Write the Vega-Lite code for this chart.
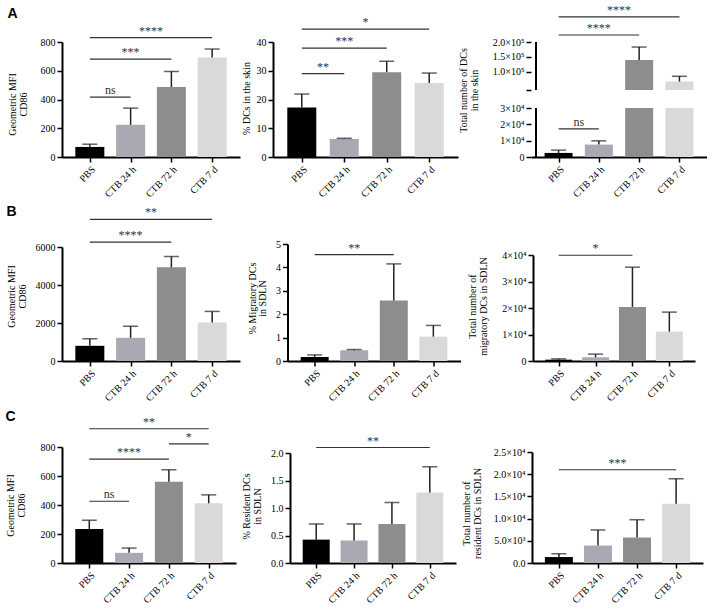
{
"$schema":"https://vega.github.io/schema/vega-lite/v6.json",
"background":"white",
"padding":{"left":5,"top":3,"right":0,"bottom":0},
"spacing":6,
"align":"none",
"vconcat":[
{"spacing":0,"align":"none","hconcat":[
{"width":178,"height":115,"title":{"text":"A","offset":4},
"layer":[
{"data":{"values":[{"group":"PBS","pos":0,"mean":70,"upper":89},{"group":"CTB 24 h","pos":1,"mean":224,"upper":340},{"group":"CTB 72 h","pos":2,"mean":487,"upper":595},{"group":"CTB 7 d","pos":3,"mean":693,"upper":751}]},
"layer":[
{"mark":{"type":"bar","width":29,"orient":"vertical"},"encoding":{"x":{"field":"pos","type":"quantitative","scale":{"domain":[-0.56,3.56],"nice":false,"zero":false},"axis":{"values":[0,1,2,3],"labelExpr":"['PBS','CTB 24 h','CTB 72 h','CTB 7 d'][datum.value]","title":null}},"y":{"field":"mean","type":"quantitative","scale":{"domain":[0,800],"nice":false},"axis":{"values":[0,200,400,600,800],"title":["Geometric MFI","CD86"],"titleX":-44.5,"titleY":62}},"color":{"field":"group","type":"nominal","scale":{"domain":["PBS","CTB 24 h","CTB 72 h","CTB 7 d"],"range":["#000000","#a9a9b3","#8d8d8d","#d9d9d9"]},"legend":null}}},
{"mark":{"type":"rule","color":"#222","strokeWidth":1.5},"encoding":{"x":{"field":"pos","type":"quantitative"},"y":{"field":"mean","type":"quantitative"},"y2":{"field":"upper"}}},
{"mark":{"type":"tick","orient":"horizontal","color":"#222","size":15,"thickness":1.5},"encoding":{"x":{"field":"pos","type":"quantitative"},"y":{"field":"upper","type":"quantitative"}}}
]},
{"data":{"values":[{"from":0,"to":1,"at":417,"label":"ns"},{"from":0,"to":2,"at":681,"label":"***"},{"from":0,"to":3,"at":830,"label":"****"}]},
"layer":[
{"mark":{"type":"rule","color":"#333","strokeWidth":1.2},"encoding":{"x":{"field":"from","type":"quantitative"},"x2":{"field":"to"},"y":{"field":"at","type":"quantitative"}}},
{"transform":[{"fold":["from","to"],"as":["end","xpos"]}],"mark":{"type":"text","dy":-3,"baseline":"alphabetic"},"encoding":{"x":{"aggregate":"mean","field":"xpos","type":"quantitative"},"y":{"field":"at","type":"quantitative"},"text":{"field":"label"}}}
]}
]},
{"width":185,"height":115,
"layer":[
{"data":{"values":[{"group":"PBS","pos":0,"mean":17.2,"upper":21.9},{"group":"CTB 24 h","pos":1,"mean":6.3,"upper":6.5},{"group":"CTB 72 h","pos":2,"mean":29.5,"upper":33.3},{"group":"CTB 7 d","pos":3,"mean":25.7,"upper":29.2}]},
"layer":[
{"mark":{"type":"bar","width":29,"orient":"vertical"},"encoding":{"x":{"field":"pos","type":"quantitative","scale":{"domain":[-0.56,3.56],"nice":false,"zero":false},"axis":{"values":[0,1,2,3],"labelExpr":"['PBS','CTB 24 h','CTB 72 h','CTB 7 d'][datum.value]","title":null}},"y":{"field":"mean","type":"quantitative","scale":{"domain":[0,40],"nice":false},"axis":{"values":[0,10,20,30,40],"title":"% DCs in the skin","titleX":-22,"titleY":56}},"color":{"field":"group","type":"nominal","scale":{"domain":["PBS","CTB 24 h","CTB 72 h","CTB 7 d"],"range":["#000000","#a9a9b3","#8d8d8d","#d9d9d9"]},"legend":null}}},
{"mark":{"type":"rule","color":"#222","strokeWidth":1.5},"encoding":{"x":{"field":"pos","type":"quantitative"},"y":{"field":"mean","type":"quantitative"},"y2":{"field":"upper"}}},
{"mark":{"type":"tick","orient":"horizontal","color":"#222","size":15,"thickness":1.5},"encoding":{"x":{"field":"pos","type":"quantitative"},"y":{"field":"upper","type":"quantitative"}}}
]},
{"data":{"values":[{"from":0,"to":1,"at":29.0,"label":"**"},{"from":0,"to":2,"at":37.9,"label":"***"},{"from":0,"to":3,"at":44.5,"label":"*"}]},
"layer":[
{"mark":{"type":"rule","color":"#333","strokeWidth":1.2},"encoding":{"x":{"field":"from","type":"quantitative"},"x2":{"field":"to"},"y":{"field":"at","type":"quantitative"}}},
{"transform":[{"fold":["from","to"],"as":["end","xpos"]}],"mark":{"type":"text","dy":-3,"baseline":"alphabetic"},"encoding":{"x":{"aggregate":"mean","field":"xpos","type":"quantitative"},"y":{"field":"at","type":"quantitative"},"text":{"field":"label"}}}
]}
]},
{"width":176,"height":115,
"layer":[
{"data":{"values":[{"group":"PBS","pos":0,"mean":2500,"upper":4200},{"group":"CTB 24 h","pos":1,"mean":7600,"upper":9900},{"group":"CTB 72 h","pos":2,"mean":139300,"upper":183000},{"group":"CTB 7 d","pos":3,"mean":66300,"upper":84300}]},
"layer":[
{"mark":{"type":"bar","width":28,"orient":"vertical"},"encoding":{"x":{"field":"pos","type":"quantitative","scale":{"domain":[-0.56,3.56],"nice":false,"zero":false},"axis":{"values":[0,1,2,3],"labelExpr":"['PBS','CTB 24 h','CTB 72 h','CTB 7 d'][datum.value]","title":null}},"y":{"field":"mean","type":"quantitative","scale":{"domain":[0,30000,38000,200000],"range":[115,66,48,0],"nice":false,"zero":false},"axis":{"values":[0,10000,20000,30000,38000,100000,150000,200000],"labelExpr":"datum.value == 0 ? '0' : datum.value == 38000 ? '' : datum.value <= 30000 ? (datum.value/10000) + '×10⁴' : format(datum.value/100000, '.1f') + '×10⁵'","domain":false,"title":["Total number of DCs","in the skin"],"titleX":-62.5,"titleY":48}},"color":{"field":"group","type":"nominal","scale":{"domain":["PBS","CTB 24 h","CTB 72 h","CTB 7 d"],"range":["#000000","#a9a9b3","#8d8d8d","#d9d9d9"]},"legend":null}}},
{"mark":{"type":"rule","color":"#222","strokeWidth":1.5},"encoding":{"x":{"field":"pos","type":"quantitative"},"y":{"field":"mean","type":"quantitative"},"y2":{"field":"upper"}}},
{"mark":{"type":"tick","orient":"horizontal","color":"#222","size":15,"thickness":1.5},"encoding":{"x":{"field":"pos","type":"quantitative"},"y":{"field":"upper","type":"quantitative"}}}
]},
{"data":{"values":[{"lo":30000,"hi":38000}]},"mark":{"type":"rect","color":"white"},"encoding":{"x":{"datum":-0.56,"type":"quantitative"},"x2":{"datum":3.56},"y":{"field":"lo","type":"quantitative"},"y2":{"field":"hi"}}},
{"data":{"values":[{"lo":0,"hi":30000},{"lo":38000,"hi":200000}]},"mark":{"type":"rule","color":"#000","strokeWidth":2},"encoding":{"x":{"datum":-0.56,"type":"quantitative"},"y":{"field":"lo","type":"quantitative"},"y2":{"field":"hi"}}},
{"data":{"values":[{"from":0,"to":1,"at":17200,"label":"ns"},{"from":0,"to":2,"at":223600,"label":"****"},{"from":0,"to":3,"at":285000,"label":"****"}]},
"layer":[
{"mark":{"type":"rule","color":"#333","strokeWidth":1.2},"encoding":{"x":{"field":"from","type":"quantitative"},"x2":{"field":"to"},"y":{"field":"at","type":"quantitative"}}},
{"transform":[{"fold":["from","to"],"as":["end","xpos"]}],"mark":{"type":"text","dy":-3,"baseline":"alphabetic"},"encoding":{"x":{"aggregate":"mean","field":"xpos","type":"quantitative"},"y":{"field":"at","type":"quantitative"},"text":{"field":"label"}}}
]}
]}
]},
{"spacing":6.5,"align":"none","hconcat":[
{"width":178,"height":117,"title":{"text":"B","offset":-13},
"layer":[
{"data":{"values":[{"group":"PBS","pos":0,"mean":800,"upper":1170},{"group":"CTB 24 h","pos":1,"mean":1220,"upper":1830},{"group":"CTB 72 h","pos":2,"mean":4930,"upper":5500},{"group":"CTB 7 d","pos":3,"mean":2020,"upper":2610}]},
"layer":[
{"mark":{"type":"bar","width":29,"orient":"vertical"},"encoding":{"x":{"field":"pos","type":"quantitative","scale":{"domain":[-0.56,3.56],"nice":false,"zero":false},"axis":{"values":[0,1,2,3],"labelExpr":"['PBS','CTB 24 h','CTB 72 h','CTB 7 d'][datum.value]","title":null}},"y":{"field":"mean","type":"quantitative","scale":{"domain":[0,6000],"range":[117,3],"nice":false},"axis":{"values":[0,2000,4000,6000],"format":"d","title":["Geometric MFI","CD86"],"titleX":-45.5,"titleY":52}},"color":{"field":"group","type":"nominal","scale":{"domain":["PBS","CTB 24 h","CTB 72 h","CTB 7 d"],"range":["#000000","#a9a9b3","#8d8d8d","#d9d9d9"]},"legend":null}}},
{"mark":{"type":"rule","color":"#222","strokeWidth":1.5},"encoding":{"x":{"field":"pos","type":"quantitative"},"y":{"field":"mean","type":"quantitative"},"y2":{"field":"upper"}}},
{"mark":{"type":"tick","orient":"horizontal","color":"#222","size":15,"thickness":1.5},"encoding":{"x":{"field":"pos","type":"quantitative"},"y":{"field":"upper","type":"quantitative"}}}
]},
{"data":{"values":[{"from":0,"to":2,"at":6260,"label":"****"},{"from":0,"to":3,"at":7450,"label":"**"}]},
"layer":[
{"mark":{"type":"rule","color":"#333","strokeWidth":1.2},"encoding":{"x":{"field":"from","type":"quantitative"},"x2":{"field":"to"},"y":{"field":"at","type":"quantitative"}}},
{"transform":[{"fold":["from","to"],"as":["end","xpos"]}],"mark":{"type":"text","dy":-3,"baseline":"alphabetic"},"encoding":{"x":{"aggregate":"mean","field":"xpos","type":"quantitative"},"y":{"field":"at","type":"quantitative"},"text":{"field":"label"}}}
]}
]},
{"width":173,"height":117,
"layer":[
{"data":{"values":[{"group":"PBS","pos":0,"mean":0.17,"upper":0.26},{"group":"CTB 24 h","pos":1,"mean":0.46,"upper":0.49},{"group":"CTB 72 h","pos":2,"mean":2.59,"upper":4.15},{"group":"CTB 7 d","pos":3,"mean":1.04,"upper":1.52}]},
"layer":[
{"mark":{"type":"bar","width":28,"orient":"vertical"},"encoding":{"x":{"field":"pos","type":"quantitative","scale":{"domain":[-0.56,3.56],"nice":false,"zero":false},"axis":{"values":[0,1,2,3],"labelExpr":"['PBS','CTB 24 h','CTB 72 h','CTB 7 d'][datum.value]","title":null}},"y":{"field":"mean","type":"quantitative","scale":{"domain":[0,5],"range":[117,0],"nice":false},"axis":{"values":[0,1,2,3,4,5],"format":"d","title":["% Migratory  DCs","in SDLN"],"titleX":-30.5,"titleY":54}},"color":{"field":"group","type":"nominal","scale":{"domain":["PBS","CTB 24 h","CTB 72 h","CTB 7 d"],"range":["#000000","#a9a9b3","#8d8d8d","#d9d9d9"]},"legend":null}}},
{"mark":{"type":"rule","color":"#222","strokeWidth":1.5},"encoding":{"x":{"field":"pos","type":"quantitative"},"y":{"field":"mean","type":"quantitative"},"y2":{"field":"upper"}}},
{"mark":{"type":"tick","orient":"horizontal","color":"#222","size":15,"thickness":1.5},"encoding":{"x":{"field":"pos","type":"quantitative"},"y":{"field":"upper","type":"quantitative"}}}
]},
{"data":{"values":[{"from":0,"to":2,"at":4.55,"label":"**"}]},
"layer":[
{"mark":{"type":"rule","color":"#333","strokeWidth":1.2},"encoding":{"x":{"field":"from","type":"quantitative"},"x2":{"field":"to"},"y":{"field":"at","type":"quantitative"}}},
{"transform":[{"fold":["from","to"],"as":["end","xpos"]}],"mark":{"type":"text","dy":-3,"baseline":"alphabetic"},"encoding":{"x":{"aggregate":"mean","field":"xpos","type":"quantitative"},"y":{"field":"at","type":"quantitative"},"text":{"field":"label"}}}
]}
]},
{"width":162,"height":117,
"layer":[
{"data":{"values":[{"group":"PBS","pos":0,"mean":500,"upper":800},{"group":"CTB 24 h","pos":1,"mean":1400,"upper":2600},{"group":"CTB 72 h","pos":2,"mean":20400,"upper":35400},{"group":"CTB 7 d","pos":3,"mean":11100,"upper":18450}]},
"layer":[
{"mark":{"type":"bar","width":27,"orient":"vertical"},"encoding":{"x":{"field":"pos","type":"quantitative","scale":{"domain":[-0.56,3.56],"nice":false,"zero":false},"axis":{"values":[0,1,2,3],"labelExpr":"['PBS','CTB 24 h','CTB 72 h','CTB 7 d'][datum.value]","title":null}},"y":{"field":"mean","type":"quantitative","scale":{"domain":[0,40000],"range":[117,11],"nice":false},"axis":{"values":[0,10000,20000,30000,40000],"labelExpr":"datum.value == 0 ? '0' : (datum.value/10000) + '×10⁴'","title":["Total number of","migratory DCs in SDLN"],"titleX":-55.5,"titleY":62}},"color":{"field":"group","type":"nominal","scale":{"domain":["PBS","CTB 24 h","CTB 72 h","CTB 7 d"],"range":["#000000","#a9a9b3","#8d8d8d","#d9d9d9"]},"legend":null}}},
{"mark":{"type":"rule","color":"#222","strokeWidth":1.5},"encoding":{"x":{"field":"pos","type":"quantitative"},"y":{"field":"mean","type":"quantitative"},"y2":{"field":"upper"}}},
{"mark":{"type":"tick","orient":"horizontal","color":"#222","size":15,"thickness":1.5},"encoding":{"x":{"field":"pos","type":"quantitative"},"y":{"field":"upper","type":"quantitative"}}}
]},
{"data":{"values":[{"from":0,"to":2,"at":39900,"label":"*"}]},
"layer":[
{"mark":{"type":"rule","color":"#333","strokeWidth":1.2},"encoding":{"x":{"field":"from","type":"quantitative"},"x2":{"field":"to"},"y":{"field":"at","type":"quantitative"}}},
{"transform":[{"fold":["from","to"],"as":["end","xpos"]}],"mark":{"type":"text","dy":-3,"baseline":"alphabetic"},"encoding":{"x":{"aggregate":"mean","field":"xpos","type":"quantitative"},"y":{"field":"at","type":"quantitative"},"text":{"field":"label"}}}
]}
]}
]},
{"spacing":5,"align":"none","hconcat":[
{"width":174,"height":116,"title":{"text":"C","offset":-8},
"layer":[
{"data":{"values":[{"group":"PBS","pos":0,"mean":234,"upper":295},{"group":"CTB 24 h","pos":1,"mean":70,"upper":103},{"group":"CTB 72 h","pos":2,"mean":561,"upper":643},{"group":"CTB 7 d","pos":3,"mean":412,"upper":470}]},
"layer":[
{"mark":{"type":"bar","width":28,"orient":"vertical"},"encoding":{"x":{"field":"pos","type":"quantitative","scale":{"domain":[-0.56,3.56],"nice":false,"zero":false},"axis":{"values":[0,1,2,3],"labelExpr":"['PBS','CTB 24 h','CTB 72 h','CTB 7 d'][datum.value]","title":null}},"y":{"field":"mean","type":"quantitative","scale":{"domain":[0,800],"range":[116,0],"nice":false},"axis":{"values":[0,200,400,600,800],"title":["Geometric MFI","CD86"],"titleX":-46.5,"titleY":58}},"color":{"field":"group","type":"nominal","scale":{"domain":["PBS","CTB 24 h","CTB 72 h","CTB 7 d"],"range":["#000000","#a9a9b3","#8d8d8d","#d9d9d9"]},"legend":null}}},
{"mark":{"type":"rule","color":"#222","strokeWidth":1.5},"encoding":{"x":{"field":"pos","type":"quantitative"},"y":{"field":"mean","type":"quantitative"},"y2":{"field":"upper"}}},
{"mark":{"type":"tick","orient":"horizontal","color":"#222","size":15,"thickness":1.5},"encoding":{"x":{"field":"pos","type":"quantitative"},"y":{"field":"upper","type":"quantitative"}}}
]},
{"data":{"values":[{"from":0,"to":1,"at":426,"label":"ns"},{"from":0,"to":2,"at":716,"label":"****"},{"from":2,"to":3,"at":821,"label":"*"},{"from":0,"to":3,"at":926,"label":"**"}]},
"layer":[
{"mark":{"type":"rule","color":"#333","strokeWidth":1.2},"encoding":{"x":{"field":"from","type":"quantitative"},"x2":{"field":"to"},"y":{"field":"at","type":"quantitative"}}},
{"transform":[{"fold":["from","to"],"as":["end","xpos"]}],"mark":{"type":"text","dy":-3,"baseline":"alphabetic"},"encoding":{"x":{"aggregate":"mean","field":"xpos","type":"quantitative"},"y":{"field":"at","type":"quantitative"},"text":{"field":"label"}}}
]}
]},
{"width":166,"height":116,
"layer":[
{"data":{"values":[{"group":"PBS","pos":0,"mean":0.425,"upper":0.71},{"group":"CTB 24 h","pos":1,"mean":0.41,"upper":0.71},{"group":"CTB 72 h","pos":2,"mean":0.71,"upper":1.10},{"group":"CTB 7 d","pos":3,"mean":1.28,"upper":1.75}]},
"layer":[
{"mark":{"type":"bar","width":27,"orient":"vertical"},"encoding":{"x":{"field":"pos","type":"quantitative","scale":{"domain":[-0.56,3.56],"nice":false,"zero":false},"axis":{"values":[0,1,2,3],"labelExpr":"['PBS','CTB 24 h','CTB 72 h','CTB 7 d'][datum.value]","title":null}},"y":{"field":"mean","type":"quantitative","scale":{"domain":[0,2],"range":[116,6],"nice":false},"axis":{"values":[0,0.5,1,1.5,2],"format":".1f","title":["% Resident DCs","in SDLN"],"titleX":-38.5,"titleY":59}},"color":{"field":"group","type":"nominal","scale":{"domain":["PBS","CTB 24 h","CTB 72 h","CTB 7 d"],"range":["#000000","#a9a9b3","#8d8d8d","#d9d9d9"]},"legend":null}}},
{"mark":{"type":"rule","color":"#222","strokeWidth":1.5},"encoding":{"x":{"field":"pos","type":"quantitative"},"y":{"field":"mean","type":"quantitative"},"y2":{"field":"upper"}}},
{"mark":{"type":"tick","orient":"horizontal","color":"#222","size":15,"thickness":1.5},"encoding":{"x":{"field":"pos","type":"quantitative"},"y":{"field":"upper","type":"quantitative"}}}
]},
{"data":{"values":[{"from":0,"to":3,"at":2.10,"label":"**"}]},
"layer":[
{"mark":{"type":"rule","color":"#333","strokeWidth":1.2},"encoding":{"x":{"field":"from","type":"quantitative"},"x2":{"field":"to"},"y":{"field":"at","type":"quantitative"}}},
{"transform":[{"fold":["from","to"],"as":["end","xpos"]}],"mark":{"type":"text","dy":-3,"baseline":"alphabetic"},"encoding":{"x":{"aggregate":"mean","field":"xpos","type":"quantitative"},"y":{"field":"at","type":"quantitative"},"text":{"field":"label"}}}
]}
]},
{"width":171,"height":116,
"layer":[
{"data":{"values":[{"group":"PBS","pos":0,"mean":1340,"upper":2080},{"group":"CTB 24 h","pos":1,"mean":3940,"upper":7440},{"group":"CTB 72 h","pos":2,"mean":5730,"upper":9750},{"group":"CTB 7 d","pos":3,"mean":13320,"upper":18970}]},
"layer":[
{"mark":{"type":"bar","width":28,"orient":"vertical"},"encoding":{"x":{"field":"pos","type":"quantitative","scale":{"domain":[-0.56,3.56],"nice":false,"zero":false},"axis":{"values":[0,1,2,3],"labelExpr":"['PBS','CTB 24 h','CTB 72 h','CTB 7 d'][datum.value]","title":null}},"y":{"field":"mean","type":"quantitative","scale":{"domain":[0,25000],"range":[116,5],"nice":false},"axis":{"values":[0,5000,10000,15000,20000,25000],"labelExpr":"datum.value == 0 ? '0.0' : datum.value < 10000 ? format(datum.value/1000, '.1f') + '×10³' : format(datum.value/10000, '.1f') + '×10⁴'","title":["Total number of","resident DCs in SDLN"],"titleX":-60.5,"titleY":66}},"color":{"field":"group","type":"nominal","scale":{"domain":["PBS","CTB 24 h","CTB 72 h","CTB 7 d"],"range":["#000000","#a9a9b3","#8d8d8d","#d9d9d9"]},"legend":null}}},
{"mark":{"type":"rule","color":"#222","strokeWidth":1.5},"encoding":{"x":{"field":"pos","type":"quantitative"},"y":{"field":"mean","type":"quantitative"},"y2":{"field":"upper"}}},
{"mark":{"type":"tick","orient":"horizontal","color":"#222","size":15,"thickness":1.5},"encoding":{"x":{"field":"pos","type":"quantitative"},"y":{"field":"upper","type":"quantitative"}}}
]},
{"data":{"values":[{"from":0,"to":3,"at":21000,"label":"***"}]},
"layer":[
{"mark":{"type":"rule","color":"#333","strokeWidth":1.2},"encoding":{"x":{"field":"from","type":"quantitative"},"x2":{"field":"to"},"y":{"field":"at","type":"quantitative"}}},
{"transform":[{"fold":["from","to"],"as":["end","xpos"]}],"mark":{"type":"text","dy":-3,"baseline":"alphabetic"},"encoding":{"x":{"aggregate":"mean","field":"xpos","type":"quantitative"},"y":{"field":"at","type":"quantitative"},"text":{"field":"label"}}}
]}
]}
]}
],
"config":{
"view":{"stroke":null},
"axis":{"labelFont":"Liberation Serif","labelFontSize":10,"labelColor":"#000","titleFont":"Liberation Serif","titleFontSize":10,"titleFontWeight":"normal","titleColor":"#000","domainColor":"#000","domainWidth":2,"tickColor":"#000","tickWidth":1.5,"tickSize":5,"grid":false,"labelPadding":2,"labelFlush":false,"labelOverlap":false,"zindex":1,"titleLineHeight":10.5,"tickCount":20,"minExtent":0},
"axisY":{"minExtent":0,"tickCount":20,"titleAngle":-90,"titleAlign":"center","titleBaseline":"bottom"},
"axisX":{"labelAngle":-45},
"text":{"font":"Liberation Serif","fontSize":12,"color":"#333"},
"title":{"font":"Liberation Sans","fontSize":14,"fontWeight":"bold","color":"#000","anchor":"start","frame":"bounds"}
}
}
